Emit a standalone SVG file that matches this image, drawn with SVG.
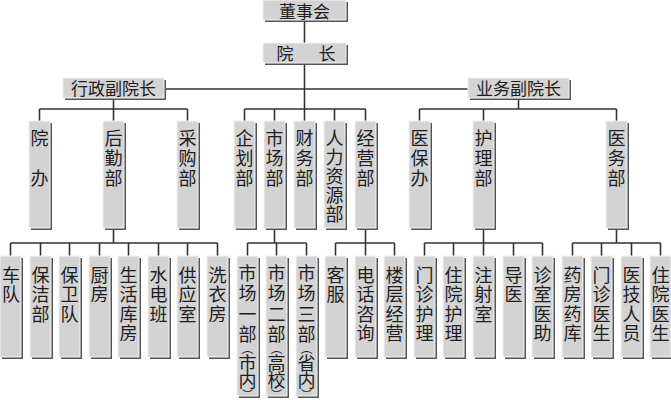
<svg xmlns="http://www.w3.org/2000/svg" width="671" height="400" viewBox="0 0 671 400">
<style>
.bx{fill:#d3d3d3;stroke:#f2f2f2;stroke-width:1}
.sh{fill:#555}
.ln{stroke:#333;stroke-width:1.6;fill:none}
text{font-family:"Noto Sans CJK SC","Noto Sans CJK JP",sans-serif;fill:#1e1e1e}
.h{font-size:17px;text-anchor:middle}
.v{font-size:18px;writing-mode:vertical-rl;letter-spacing:2px}
.v3{font-size:18px;writing-mode:vertical-rl;letter-spacing:1.5px}
.vm{font-size:18px;writing-mode:vertical-rl;letter-spacing:2.5px}
.vp{font-size:18px;writing-mode:vertical-rl;letter-spacing:-0.5px}
.pl{font-size:12px;letter-spacing:0}
.pr{font-size:11px;letter-spacing:0}
</style>
<rect width="671" height="400" fill="#fff"/>
<g id="connectors" class="ln">
<path d="M304.5 21V44M304.5 64V122M164 89H468"/>
<path d="M113.5 99V109M39.5 109H187.5M39.5 109V122M113.5 109V122M187.5 109V122"/>
<path d="M244.5 109H365.5M244.5 109V122M274.5 109V122M334.5 109V122M365.5 109V122"/>
<path d="M518.5 99V109M419.5 109H616.5M419.5 109V122M483.5 109V122M616.5 109V122"/>
<path d="M113.5 229V243M10.5 243H217.5M10.5 243V257M40.5 243V257M69.5 243V257M99.5 243V257M128.5 243V257M158.5 243V257M187.5 243V257M217.5 243V257"/>
<path d="M274.5 229V243M247.5 243H306.5M247.5 243V257M276.5 243V257M306.5 243V257"/>
<path d="M365.5 229V243M335.5 243H394.5M335.5 243V257M365.5 243V257M394.5 243V257"/>
<path d="M483.5 229V243M424.5 243H542.5M424.5 243V257M453.5 243V257M483.5 243V257M513.5 243V257M542.5 243V257"/>
<path d="M616.5 229V243M572.5 243H660.5M572.5 243V257M601.5 243V257M631.5 243V257M660.5 243V257"/>
</g>
<g id="n-dongshihui"><rect class="sh" x="265" y="2" width="83" height="20"/><rect class="bx" x="263" y="0" width="83" height="20"/><text class="h" x="304.5" y="17.5">董事会</text></g>
<g id="n-yuanzhang"><rect class="sh" x="265" y="45" width="83" height="20"/><rect class="bx" x="263" y="43" width="83" height="20"/><text class="h" x="285" y="59.5">院</text><text class="h" x="327" y="59.5">长</text></g>
<g id="n-xingzheng"><rect class="sh" x="65" y="80" width="101" height="20"/><rect class="bx" x="63" y="78" width="101" height="20"/><text class="h" x="113.5" y="94.5">行政副院长</text></g>
<g id="n-yewu"><rect class="sh" x="470" y="80" width="101" height="20"/><rect class="bx" x="468" y="78" width="101" height="20"/><text class="h" x="518.5" y="94.5">业务副院长</text></g>

<g id="n-yuanban"><rect class="sh" x="31" y="123" width="21" height="107"/><rect class="bx" x="29" y="121" width="21" height="107"/><text class="v" x="39.5" y="129">院　办</text></g>
<g id="n-houqin"><rect class="sh" x="105" y="123" width="21" height="107"/><rect class="bx" x="103" y="121" width="21" height="107"/><text class="v" x="113.5" y="129">后勤部</text></g>
<g id="n-caigou"><rect class="sh" x="179" y="123" width="21" height="107"/><rect class="bx" x="177" y="121" width="21" height="107"/><text class="v" x="187.5" y="129">采购部</text></g>
<g id="n-qihua"><rect class="sh" x="236" y="123" width="21" height="107"/><rect class="bx" x="234" y="121" width="21" height="107"/><text class="v" x="244.5" y="129">企划部</text></g>
<g id="n-shichang"><rect class="sh" x="266" y="123" width="21" height="107"/><rect class="bx" x="264" y="121" width="21" height="107"/><text class="v" x="274.5" y="129">市场部</text></g>
<g id="n-caiwu"><rect class="sh" x="296" y="123" width="21" height="107"/><rect class="bx" x="294" y="121" width="21" height="107"/><text class="v" x="304.5" y="129">财务部</text></g>
<g id="n-renli"><rect class="sh" x="326" y="123" width="21" height="107"/><rect class="bx" x="324" y="121" width="21" height="107"/><text class="v" x="334.5" y="129" style="letter-spacing:1px">人力资源部</text></g>
<g id="n-jingying"><rect class="sh" x="357" y="123" width="21" height="107"/><rect class="bx" x="355" y="121" width="21" height="107"/><text class="v" x="365.5" y="129">经营部</text></g>
<g id="n-yibao"><rect class="sh" x="411" y="123" width="21" height="107"/><rect class="bx" x="409" y="121" width="21" height="107"/><text class="v" x="419.5" y="129">医保办</text></g>
<g id="n-huli"><rect class="sh" x="475" y="123" width="21" height="107"/><rect class="bx" x="473" y="121" width="21" height="107"/><text class="v" x="483.5" y="129">护理部</text></g>
<g id="n-yiwu"><rect class="sh" x="608" y="123" width="21" height="107"/><rect class="bx" x="606" y="121" width="21" height="107"/><text class="v" x="616.5" y="129">医务部</text></g>

<g id="n-chedui"><rect class="sh" x="2" y="258" width="21" height="101"/><rect class="bx" x="0" y="256" width="21" height="101"/><text class="v3" x="11" y="266">车队</text></g>
<g id="n-baojie"><rect class="sh" x="32" y="258" width="21" height="101"/><rect class="bx" x="30" y="256" width="21" height="101"/><text class="v3" x="40.5" y="266">保洁部</text></g>
<g id="n-baowei"><rect class="sh" x="61" y="258" width="21" height="101"/><rect class="bx" x="59" y="256" width="21" height="101"/><text class="v3" x="69.5" y="266">保卫队</text></g>
<g id="n-chufang"><rect class="sh" x="91" y="258" width="21" height="101"/><rect class="bx" x="89" y="256" width="21" height="101"/><text class="v3" x="99.5" y="266">厨房</text></g>
<g id="n-kufang"><rect class="sh" x="120" y="258" width="21" height="101"/><rect class="bx" x="118" y="256" width="21" height="101"/><text class="v3" x="128.5" y="266">生活库房</text></g>
<g id="n-shuidian"><rect class="sh" x="150" y="258" width="21" height="101"/><rect class="bx" x="148" y="256" width="21" height="101"/><text class="v3" x="158.5" y="266">水电班</text></g>
<g id="n-gongying"><rect class="sh" x="179" y="258" width="21" height="101"/><rect class="bx" x="177" y="256" width="21" height="101"/><text class="v3" x="187.5" y="266">供应室</text></g>
<g id="n-xiyi"><rect class="sh" x="209" y="258" width="21" height="101"/><rect class="bx" x="207" y="256" width="21" height="101"/><text class="v3" x="217.5" y="266">洗衣房</text></g>

<g id="n-sc1"><rect class="sh" x="239" y="258" width="21" height="140"/><rect class="bx" x="237" y="256" width="21" height="140"/><text class="vm" x="247.5" y="264">市场一部</text><text class="vp" x="247.5" y="342"><tspan class="pl">（</tspan>市内<tspan class="pr">）</tspan></text></g>
<g id="n-sc2"><rect class="sh" x="268" y="258" width="21" height="140"/><rect class="bx" x="266" y="256" width="21" height="140"/><text class="vm" x="276.5" y="264">市场二部</text><text class="vp" x="276.5" y="342"><tspan class="pl">（</tspan>高校<tspan class="pr">）</tspan></text></g>
<g id="n-sc3"><rect class="sh" x="298" y="258" width="21" height="140"/><rect class="bx" x="296" y="256" width="21" height="140"/><text class="vm" x="306.5" y="264">市场三部</text><text class="vp" x="306.5" y="342"><tspan class="pl">（</tspan>省内<tspan class="pr">）</tspan></text></g>

<g id="n-kefu"><rect class="sh" x="327" y="258" width="21" height="101"/><rect class="bx" x="325" y="256" width="21" height="101"/><text class="v3" x="335.5" y="266">客服</text></g>
<g id="n-dianhua"><rect class="sh" x="357" y="258" width="21" height="101"/><rect class="bx" x="355" y="256" width="21" height="101"/><text class="v3" x="365.5" y="266">电话咨询</text></g>
<g id="n-louceng"><rect class="sh" x="386" y="258" width="21" height="101"/><rect class="bx" x="384" y="256" width="21" height="101"/><text class="v3" x="394.5" y="266">楼层经营</text></g>

<g id="n-menzhenhuli"><rect class="sh" x="416" y="258" width="21" height="101"/><rect class="bx" x="414" y="256" width="21" height="101"/><text class="v3" x="424.5" y="266">门诊护理</text></g>
<g id="n-zhuyuanhuli"><rect class="sh" x="445" y="258" width="21" height="101"/><rect class="bx" x="443" y="256" width="21" height="101"/><text class="v3" x="453.5" y="266">住院护理</text></g>
<g id="n-zhushe"><rect class="sh" x="475" y="258" width="21" height="101"/><rect class="bx" x="473" y="256" width="21" height="101"/><text class="v3" x="483.5" y="266">注射室</text></g>
<g id="n-daoyi"><rect class="sh" x="505" y="258" width="21" height="101"/><rect class="bx" x="503" y="256" width="21" height="101"/><text class="v3" x="513.5" y="266">导医</text></g>
<g id="n-yizhu"><rect class="sh" x="534" y="258" width="21" height="101"/><rect class="bx" x="532" y="256" width="21" height="101"/><text class="v3" x="542.5" y="266">诊室医助</text></g>

<g id="n-yaofang"><rect class="sh" x="564" y="258" width="21" height="101"/><rect class="bx" x="562" y="256" width="21" height="101"/><text class="v3" x="572.5" y="266">药房药库</text></g>
<g id="n-menzhenyisheng"><rect class="sh" x="593" y="258" width="21" height="101"/><rect class="bx" x="591" y="256" width="21" height="101"/><text class="v3" x="601.5" y="266">门诊医生</text></g>
<g id="n-yiji"><rect class="sh" x="623" y="258" width="21" height="101"/><rect class="bx" x="621" y="256" width="21" height="101"/><text class="v3" x="631.5" y="266">医技人员</text></g>
<g id="n-zhuyuanyisheng"><rect class="sh" x="652" y="258" width="21" height="101"/><rect class="bx" x="650" y="256" width="21" height="101"/><text class="v3" x="660.5" y="266">住院医生</text></g>
</svg>
